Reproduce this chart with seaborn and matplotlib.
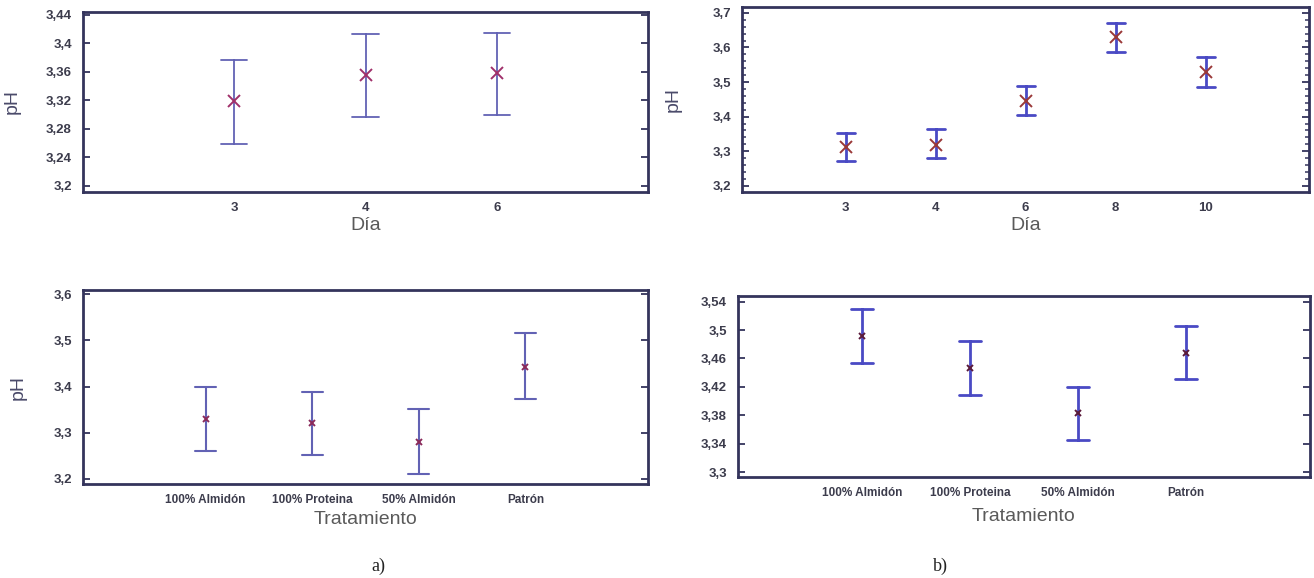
import numpy as np
import pandas as pd
import matplotlib
matplotlib.use("Agg")
import matplotlib.pyplot as plt
import seaborn as sns
from matplotlib.ticker import FixedLocator, MultipleLocator

# a) pH por día
dias_a = ["3", "4", "6"]
ph_a_dia = [3.319, 3.356, 3.358]
lo_a_dia = [3.259, 3.297, 3.299]
hi_a_dia = [3.376, 3.413, 3.415]

# b) pH por día
dias_b = ["3", "4", "6", "8", "10"]
ph_b_dia = [3.312, 3.319, 3.446, 3.630, 3.530]
lo_b_dia = [3.272, 3.281, 3.404, 3.588, 3.487]
hi_b_dia = [3.354, 3.363, 3.488, 3.671, 3.572]

# pH por tratamiento
trat = ["100% Almidón", "100% Proteina", "50% Almidón", "Patrón"]
ph_a_trat = [3.330, 3.321, 3.280, 3.443]
lo_a_trat = [3.260, 3.252, 3.210, 3.374]
hi_a_trat = [3.399, 3.389, 3.351, 3.515]
ph_b_trat = [3.491, 3.446, 3.383, 3.467]
lo_b_trat = [3.454, 3.409, 3.345, 3.431]
hi_b_trat = [3.530, 3.485, 3.420, 3.506]

NAVY = "#34345c"
W, H = 1314, 578

sns.set_style("white")
plt.rcParams["font.family"] = ["Liberation Sans", "DejaVu Sans"]

fig = plt.figure(figsize=(W / 100, H / 100), dpi=100)


def make_ax(left, top, right, bottom):
    return fig.add_axes([left / W, 1 - bottom / H, (right - left) / W, (bottom - top) / H])


def panel(ax, cats, mean, lo, hi, ylim, yticks, ylabels, xlabel, ylabel,
          err_color, err_lw, mk_color, mk_size, xtick_fs):
    df = pd.DataFrame({"cat": cats * 3, "pH": lo + mean + hi})
    sns.pointplot(data=df, x="cat", y="pH", order=cats, estimator="median",
                  errorbar=("pi", 100), capsize=0.2, linestyle="none",
                  marker="", markersize=0, color=err_color,
                  err_kws={"linewidth": err_lw}, ax=ax)
    sns.pointplot(data=df, x="cat", y="pH", order=cats, estimator="median",
                  errorbar=None, linestyle="none", marker="x",
                  markersize=mk_size, markeredgewidth=1.4, color=mk_color, ax=ax)
    n = len(cats)
    ax.set_xlim(-1.15, n - 1 + 1.15)
    ax.set_ylim(*ylim)
    ax.yaxis.set_major_locator(FixedLocator(yticks))
    ax.set_yticklabels(ylabels, fontsize=9.5, fontweight="bold", color="#3c3c4c")
    ax.set_xticks(range(n))
    ax.set_xticklabels(cats, fontsize=xtick_fs, fontweight="bold", color="#3c3c4c")
    ax.tick_params(axis="y", direction="in", left=True, right=True, length=5,
                   width=1.3, color=NAVY, pad=8)
    ax.tick_params(axis="x", length=0, pad=7)
    for s in ax.spines.values():
        s.set_visible(True)
        s.set_color(NAVY)
        s.set_linewidth(2)
    ax.set_xlabel(xlabel, fontsize=14, color="#5a5a5a")
    ax.set_ylabel(ylabel, fontsize=14, color="#4a4a6a")
    ax.xaxis.label.set_va("top")
    return ax


ax1 = make_ax(83, 12, 648, 192)
panel(ax1, dias_a, ph_a_dia, lo_a_dia, hi_a_dia, (3.191, 3.444),
      [3.2, 3.24, 3.28, 3.32, 3.36, 3.4, 3.44],
      ["3,2", "3,24", "3,28", "3,32", "3,36", "3,4", "3,44"],
      "Día", "pH", "#6262b4", 1.3, "#a0306a", 8, 9.5)
ax1.xaxis.set_label_coords(0.5, -0.14)
ax1.yaxis.set_label_coords(-0.11, 0.5)

ax2 = make_ax(742, 7, 1309, 192)
panel(ax2, dias_b, ph_b_dia, lo_b_dia, hi_b_dia, (3.182, 3.717),
      [3.2, 3.3, 3.4, 3.5, 3.6, 3.7],
      ["3,2", "3,3", "3,4", "3,5", "3,6", "3,7"],
      "Día", "pH", "#4a4ac4", 2.0, "#9a3838", 9, 9.5)
ax2.yaxis.set_minor_locator(MultipleLocator(0.02))
ax2.tick_params(axis="y", which="minor", direction="in", left=True, right=True,
                length=3, width=1.1, color=NAVY)
ax2.xaxis.set_label_coords(0.5, -0.135)
ax2.yaxis.set_label_coords(-0.106, 0.5)

ax3 = make_ax(83, 290, 648, 484)
panel(ax3, trat, ph_a_trat, lo_a_trat, hi_a_trat, (3.189, 3.609),
      [3.2, 3.3, 3.4, 3.5, 3.6],
      ["3,2", "3,3", "3,4", "3,5", "3,6"],
      "Tratamiento", "pH", "#6262b4", 1.5, "#8a2a5a", 5, 8.5)
ax3.xaxis.set_label_coords(0.5, -0.14)
ax3.yaxis.set_label_coords(-0.10, 0.5)

ax4 = make_ax(738, 296, 1310, 477)
panel(ax4, trat, ph_b_trat, lo_b_trat, hi_b_trat, (3.293, 3.548),
      [3.3, 3.34, 3.38, 3.42, 3.46, 3.5, 3.54],
      ["3,3", "3,34", "3,38", "3,42", "3,46", "3,5", "3,54"],
      "Tratamiento", "", "#4a4ac4", 2.0, "#5a1a3a", 5, 8.5)
ax4.xaxis.set_label_coords(0.5, -0.17)

fig.text(378 / W, 1 - 566 / H, "a)", fontsize=13, family="Liberation Serif",
         ha="center", va="center", color="#222222")
fig.text(940 / W, 1 - 566 / H, "b)", fontsize=13, family="Liberation Serif",
         ha="center", va="center", color="#222222")

fig.savefig("out.png", dpi=100)
